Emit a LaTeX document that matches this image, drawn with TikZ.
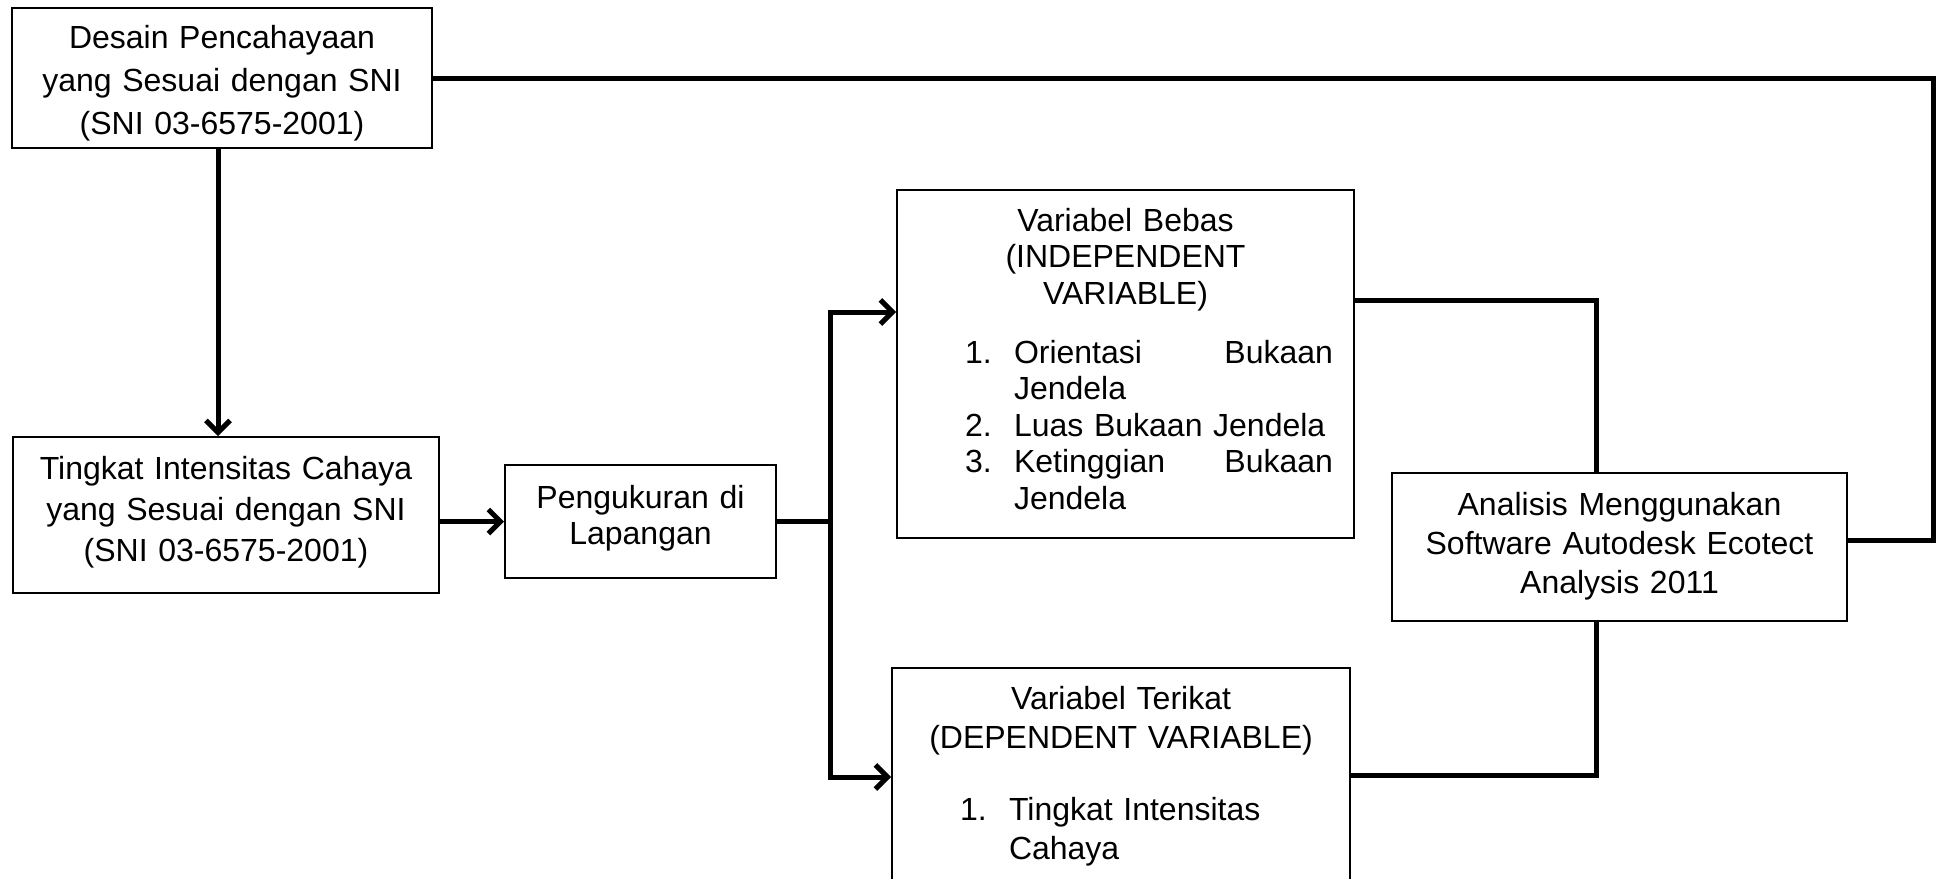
\documentclass[tikz,border=0pt]{standalone}
\usepackage{fontspec}
\setmainfont{Liberation Sans}
\usetikzlibrary{positioning,arrows.meta}
\newcommand{\butir}[2]{\makebox[\linewidth][l]{\hspace*{34pt}\makebox[24.5pt][l]{#1}#2}}

\begin{document}
\begin{tikzpicture}[x=0.5pt, y=-0.5pt,
  box node/.style={draw, line width=1pt, inner sep=0pt, anchor=north west, align=center},
  link/.style={line width=2.5pt},
  arrow link/.style={link, -{Straight Barb[length=6pt,width=12pt]}}]
  \useasboundingbox (0,0) rectangle (1942,878);
  \clip (0,0) rectangle (1942,878);

  \node[box node, text width=210pt, text height=20pt, text depth=50pt,
        font={\fontsize{16}{21.5}\selectfont}] (1) at (11,7)
        {Desain Pencahayaan\\yang Sesuai dengan SNI\\(SNI 03-6575-2001)};
  \node[box node, text width=213pt, text height=21pt, text depth=57pt,
        font={\fontsize{16}{20.5}\selectfont}] (2) at (12,436)
        {Tingkat Intensitas Cahaya\\yang Sesuai dengan SNI\\(SNI 03-6575-2001)};
  \node[box node, text width=135.5pt, text height=21.5pt, text depth=35pt,
        font={\fontsize{16}{18}\selectfont}] (3) at (504,464)
        {Pengukuran di\\Lapangan};
  \node[box node, text width=228.5pt, text height=20.5pt, text depth=153.5pt,
        font={\fontsize{16}{18.25}\selectfont}] (4) at (896,189)
        {Variabel Bebas\\(INDEPENDENT\\VARIABLE)\\[11.25pt]
         \butir{1.}{\makebox[159.5pt][l]{Orientasi\hfill Bukaan}}\\
         \butir{}{Jendela}\\
         \butir{2.}{Luas Bukaan Jendela}\\
         \butir{3.}{\makebox[159.5pt][l]{Ketinggian\hfill Bukaan}}\\
         \butir{}{Jendela}};
  \node[box node, text width=229pt, text height=20.5pt, text depth=150pt,
        font={\fontsize{16}{19.5}\selectfont}] (5) at (891,667)
        {Variabel Terikat\\(DEPENDENT VARIABLE)\\[16.5pt]
         \butir{1.}{Tingkat Intensitas}\\
         \butir{}{Cahaya}};
  \node[box node, text width=227.5pt, text height=21pt, text depth=53pt,
        font={\fontsize{16}{19.5}\selectfont}] (6) at (1391,472)
        {Analisis Menggunakan\\Software Autodesk Ecotect\\Analysis 2011};

  \draw[arrow link] (1.south -| 218,0) -- (2.north -| 218,0);
  \draw[arrow link] (2.east |- 3.west) -- (3.west);
  \draw[link] (3.east) -- ++(53,0) coordinate (j);
  \draw[arrow link] (j) |- (4.west |- 0,312);
  \draw[arrow link] (j) |- (5.west |- 0,777);
  \draw[link] (4.east |- 0,300) -| (6.north -| 1596,0);
  \draw[link] (5.east |- 0,775) -| (6.south -| 1596,0);
  \draw[link] (1.east) -- (1.east -| 1933,0) |- (6.east |- 0,540);
\end{tikzpicture}
\end{document}
